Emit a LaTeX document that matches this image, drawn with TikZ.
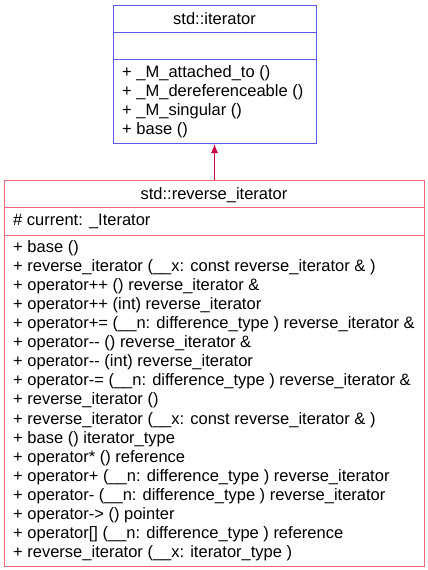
\documentclass[tikz,border=0pt]{standalone}
\usepackage{fontspec}
\setmainfont{Liberation Sans}
\usetikzlibrary{arrows.meta}
\definecolor{blueb}{RGB}{90,90,240}
\definecolor{redb}{RGB}{240,100,115}
\definecolor{arr}{RGB}{200,0,70}
\begin{document}
\begin{tikzpicture}[x=1pt,y=-1pt,
  box/.style={draw,line width=1pt,inner sep=0pt,anchor=north west},
  txt/.style={anchor=base west,inner sep=0pt,font=\fontsize{16.5}{16.5}\selectfont},
  ttl/.style={anchor=base,inner sep=0pt,font=\fontsize{16.5}{16.5}\selectfont}]
\useasboundingbox (0,0) rectangle (428,570);
% top box
\node[box,draw=blueb,minimum width=203pt,minimum height=138pt] (base) at (113,5) {};
\draw[blueb,line width=1pt] (113,32) -- (316,32) (113,59) -- (316,59);
\node[ttl] (bt) at (214.5,24) {std::iterator};
\foreach \t [count=\i from 0] in {+ \_M\_attached\_to (), + \_M\_dereferenceable (), + \_M\_singular (), + base ()}
  \node[txt] (bm\i) at (122,77.5+19*\i) {\t};
% bottom box
\node[box,draw=redb,minimum width=420pt,minimum height=386pt] (sub) at (4,180) {};
\draw[redb,line width=1pt] (4,207) -- (424,207) (4,235) -- (424,235);
\node[ttl] (st) at (214,199) {std::reverse\_iterator};
\node[txt] (sa) at (13,225.5) {\# current: \_Iterator};
\foreach \t [count=\i from 0] in {
 {+ base ()},
 {+ reverse\_iterator (\_\_x: const reverse\_iterator \& )},
 {+ operator++ () reverse\_iterator \&},
 {+ operator++ (int) reverse\_iterator},
 {+ operator+= (\_\_n: difference\_type ) reverse\_iterator \&},
 {+ operator-{}- () reverse\_iterator \&},
 {+ operator-{}- (int) reverse\_iterator},
 {+ operator-= (\_\_n: difference\_type ) reverse\_iterator \&},
 {+ reverse\_iterator ()},
 {+ reverse\_iterator (\_\_x: const reverse\_iterator \& )},
 {+ base () iterator\_type},
 {+ operator* () reference},
 {+ operator+ (\_\_n: difference\_type ) reverse\_iterator},
 {+ operator- (\_\_n: difference\_type ) reverse\_iterator},
 {+ operator-> () pointer},
 {+ operator[] (\_\_n: difference\_type ) reference},
 {+ reverse\_iterator (\_\_x: iterator\_type )}}
  \node[txt] (sm\i) at (13,252.5+19.06*\i) {\t};
\draw[arr,line width=1pt,-{Latex[length=9pt,width=7pt]}] (sub.north) -- (sub.north |- base.south);
\end{tikzpicture}
\end{document}
